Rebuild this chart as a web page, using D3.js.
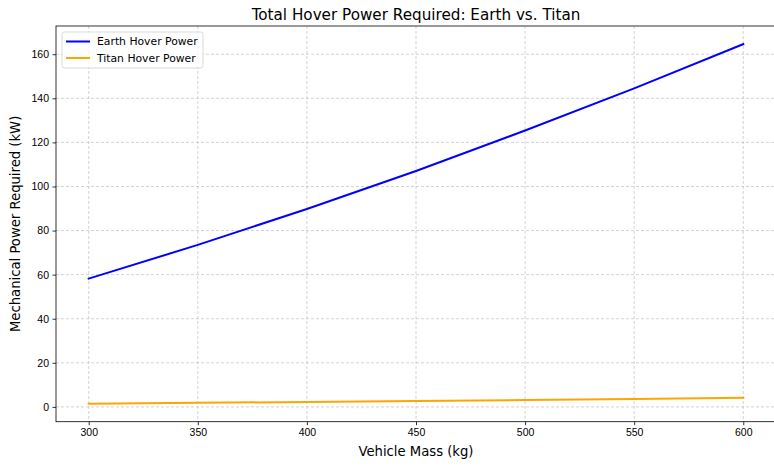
<!DOCTYPE html>
<html>
<head>
<meta charset="utf-8">
<script src="https://cdn.jsdelivr.net/npm/d3@7"></script>
<style>
	body { margin: 0; background: #fff; }
	svg { font-family: "DejaVu Sans", sans-serif; }
	.grid line { stroke: #b0b0b0; stroke-opacity: 0.7; stroke-dasharray: 3,2; stroke-width: 0.8; }
	.tick text { font-size: 10.5px; fill: #000; }
</style>
</head>
<body>
<svg id="chart" width="774" height="468"></svg>
<script>
// values
var aMass = [300, 350, 400, 450, 500, 550, 600];
var aEarth = [58.2, 73.5, 89.8, 107.0, 125.4, 144.5, 164.6];
var aTitan = [1.45, 1.85, 2.25, 2.68, 3.12, 3.6, 4.1];
var aTicksX = [300, 350, 400, 450, 500, 550, 600];
var aTicksY = [0, 20, 40, 60, 80, 100, 120, 140, 160];
var aSeries = [
	{ name: 'Earth Hover Power', values: aEarth, color: '#0000ff' },
	{ name: 'Titan Hover Power', values: aTitan, color: '#ffa500' }
];

var sSvg = d3.select('#chart');

var nLeft = 56;
var nRight = 776;
var nTop = 26;
var nBottom = 421.7;

var scaleX = d3.scaleLinear()
	.domain([285, 615])
	.range([nLeft, nRight]);

var scaleY = d3.scaleLinear()
	.domain([-6.71, 172.8])
	.range([nBottom, nTop]);

// grid
var sGrid = sSvg.append('g').attr('class', 'grid');
sGrid.selectAll('.gx')
	.data(aTicksX)
	.enter()
		.append('line')
			.attr('x1', function(d) { return scaleX(d); })
			.attr('x2', function(d) { return scaleX(d); })
			.attr('y1', nTop)
			.attr('y2', nBottom);
sGrid.selectAll('.gy')
	.data(aTicksY)
	.enter()
		.append('line')
			.attr('x1', nLeft)
			.attr('x2', nRight)
			.attr('y1', function(d) { return scaleY(d); })
			.attr('y2', function(d) { return scaleY(d); });

// lines
var fnLine = d3.line()
	.x(function(d, i) { return scaleX(aMass[i]); })
	.y(function(d) { return scaleY(d); });

sSvg.selectAll('.series')
	.data(aSeries)
	.enter()
		.append('path')
			.attr('fill', 'none')
			.attr('stroke', function(s) { return s.color; })
			.attr('stroke-width', 2)
			.attr('stroke-linecap', 'square')
			.attr('d', function(s) { return fnLine(s.values); });

// axes
var axisX = d3.axisBottom(scaleX)
	.tickValues(aTicksX)
	.tickSize(3.5)
	.tickPadding(3.5)
	.tickSizeOuter(0);
var axisY = d3.axisLeft(scaleY)
	.tickValues(aTicksY)
	.tickSize(3.5)
	.tickPadding(3.5)
	.tickSizeOuter(0);

var sAxisX = sSvg.append('g')
	.attr('transform', 'translate(0,' + nBottom + ')')
	.call(axisX);
var sAxisY = sSvg.append('g')
	.attr('transform', 'translate(' + nLeft + ',0)')
	.call(axisY);
sAxisX.select('.domain').remove();
sAxisY.select('.domain').remove();
sSvg.selectAll('.tick line').attr('stroke', '#000').attr('stroke-width', 0.8);

// frame
sSvg.append('rect')
	.attr('x', nLeft)
	.attr('y', nTop)
	.attr('width', nRight - nLeft)
	.attr('height', nBottom - nTop)
	.attr('fill', 'none')
	.attr('stroke', '#000')
	.attr('stroke-width', 0.8);

// texts
sSvg.append('text')
	.attr('x', (nLeft + nRight) / 2)
	.attr('y', 20)
	.attr('text-anchor', 'middle')
	.style('font-size', '15.2px')
	.text('Total Hover Power Required: Earth vs. Titan');

sSvg.append('text')
	.attr('x', (nLeft + nRight) / 2)
	.attr('y', 456)
	.attr('text-anchor', 'middle')
	.style('font-size', '13.2px')
	.text('Vehicle Mass (kg)');

sSvg.append('text')
	.attr('transform', 'translate(20,' + ((nTop + nBottom) / 2) + ') rotate(-90)')
	.attr('text-anchor', 'middle')
	.style('font-size', '13.2px')
	.text('Mechanical Power Required (kW)');

// legend
var sLegend = sSvg.append('g')
	.attr('transform', 'translate(62,32)');
sLegend.append('rect')
	.attr('width', 141)
	.attr('height', 36)
	.attr('rx', 2.5)
	.attr('fill', '#fff')
	.attr('fill-opacity', 0.8)
	.attr('stroke', '#d0d0d0')
	.attr('stroke-width', 0.8);
var sItems = sLegend.selectAll('.item')
	.data(aSeries)
	.enter()
		.append('g')
			.attr('transform', function(s, i) { return 'translate(0,' + (9.5 + i * 16.5) + ')'; });
sItems.append('line')
	.attr('x1', 4)
	.attr('x2', 28)
	.attr('stroke', function(s) { return s.color; })
	.attr('stroke-width', 2);
sItems.append('text')
	.attr('x', 35)
	.attr('y', 3.8)
	.style('font-size', '10.8px')
	.text(function(s) { return s.name; });
</script>
</body>
</html>
